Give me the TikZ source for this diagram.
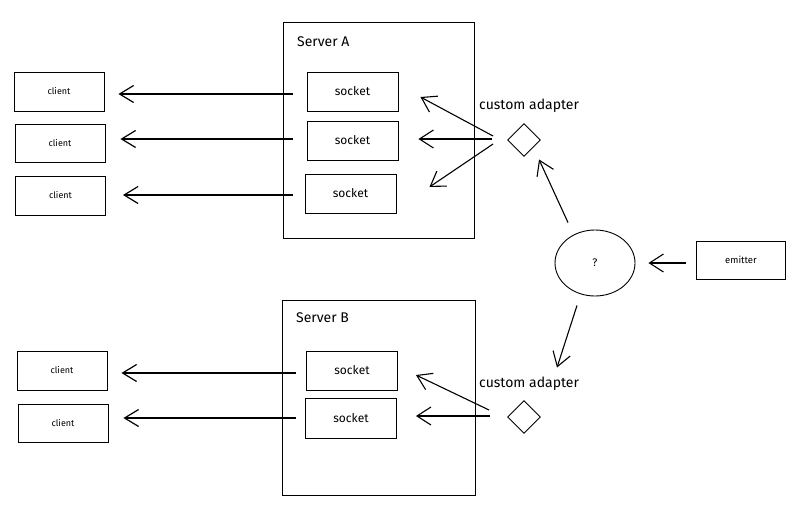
\documentclass[tikz,border=0pt]{standalone}
\usepackage{fontspec}
\setmainfont{Fira Sans}
\usetikzlibrary{arrows.meta,shapes.geometric,calc}
\begin{document}
\begin{tikzpicture}[x=1pt,y=-1pt,
  box/.style={draw, line width=0.9pt, rectangle, inner sep=0pt},
  srv/.style={box, minimum width=191pt, minimum height=216pt},
  sock/.style={box, minimum width=91pt, minimum height=39pt, font=\fontsize{12}{14}\selectfont},
  cli/.style={box, minimum width=90pt, minimum height=39pt, font=\fontsize{9}{11}\selectfont},
  lbl/.style={anchor=west, inner sep=0pt, font=\fontsize{14}{16}\selectfont},
  adapt/.style={draw, diamond, line width=0.9pt, inner sep=0pt, minimum size=33pt},
  thickarrow/.style={line width=1.8pt, -{Straight Barb[length=14pt,width=17pt,line width=1.2pt]}},
  thinarrow/.style={line width=1.1pt, -{Straight Barb[length=14pt,width=18pt]}}
]
\useasboundingbox (0,0) rectangle (799,504);
% servers
\node[srv] (srvA) at (378.5,130) {};
\node[srv, minimum height=195pt, minimum width=193pt] (srvB) at (378.5,397.5) {};
\node[lbl] (labA) at (297,42) {Server A};
\node[lbl] (labB) at (296,318) {Server B};
% sockets
\node[sock] (sA1) at (352.5,91.5) {socket};
\node[sock] (sA2) at (352.5,140.5) {socket};
\node[sock] (sA3) at (350.5,193.5) {socket};
\node[sock] (sB1) at (352,370.5) {socket};
\node[sock, minimum height=40pt] (sB2) at (351,418) {socket};
% clients
\node[cli] (cA1) at (59,91.5) {client};
\node[cli, minimum height=38pt] (cA2) at (60,143) {client};
\node[cli] (cA3) at (60.5,195.5) {client};
\node[cli] (cB1) at (62,370.5) {client};
\node[cli, minimum height=38pt] (cB2) at (63,423) {client};
% adapters
\node[adapt] (adA) at (524,140) {};
\node[adapt] (adB) at (524,417) {};
\node[lbl] (calA) at (479,106) {custom adapter};
\node[lbl] (calB) at (479,384) {custom adapter};
% emitter and dispatcher
\node[draw, ellipse, line width=0.9pt, minimum width=80pt, minimum height=66pt, inner sep=0pt, font=\fontsize{11}{13}\selectfont] (q) at (595,263) {?};
\node[box, minimum width=89pt, minimum height=38pt, font=\fontsize{9.5}{11}\selectfont] (em) at (741,260) {emitter};
% tails
\coordinate (tA1) at ($(srvA.west)+(10,0)$);
% socket -> client arrows
\draw[thickarrow] ($(srvA.west |- cA1)+(10,2.5)$) -- ($(cA1.east)+(14,2.5)$);
\draw[thickarrow] ($(srvA.west |- cA2)+(10,-4)$) -- ($(cA2.east)+(15,-4)$);
\draw[thickarrow] ($(srvA.west |- cA3)+(10,-0.5)$) -- ($(cA3.east)+(17,-0.5)$);
\draw[thickarrow] ($(srvB.west |- cB1)+(14,2.5)$) -- ($(cB1.east)+(14,2.5)$);
\draw[thickarrow] ($(srvB.west |- cB2)+(14,-5)$) -- ($(cB2.east)+(15,-5)$);
% adapter -> socket arrows
\draw[thinarrow] ($(adA.west)+(-14,-4)$) -- ($(sA1.east)+(22,5.5)$);
\draw[thinarrow] ($(adA.west)+(-15,-1)$) -- ($(sA2.east)+(20,-1.5)$);
\draw[thinarrow] ($(adA.west)+(-14,4)$) -- ($(sA3.east)+(33,-6.5)$);
\draw[thinarrow] ($(adB.west)+(-18,-7)$) -- ($(sB1.east)+(18,4.5)$);
\draw[thinarrow] ($(adB.west)+(-17,-1)$) -- ($(sB2.east)+(19,-2)$);
% dispatcher arrows
\draw[thinarrow] ($(q.north)+(-27,-7)$) -- ($(adA.south)+(15,2.5)$);
\draw[thinarrow] ($(q.south)+(-18,9)$) -- ($(adB.north)+(33,-32.5)$);
\draw[thinarrow] ($(em.west)+(-10,3)$) -- ($(q.east)+(13,0)$);
\end{tikzpicture}
\end{document}
